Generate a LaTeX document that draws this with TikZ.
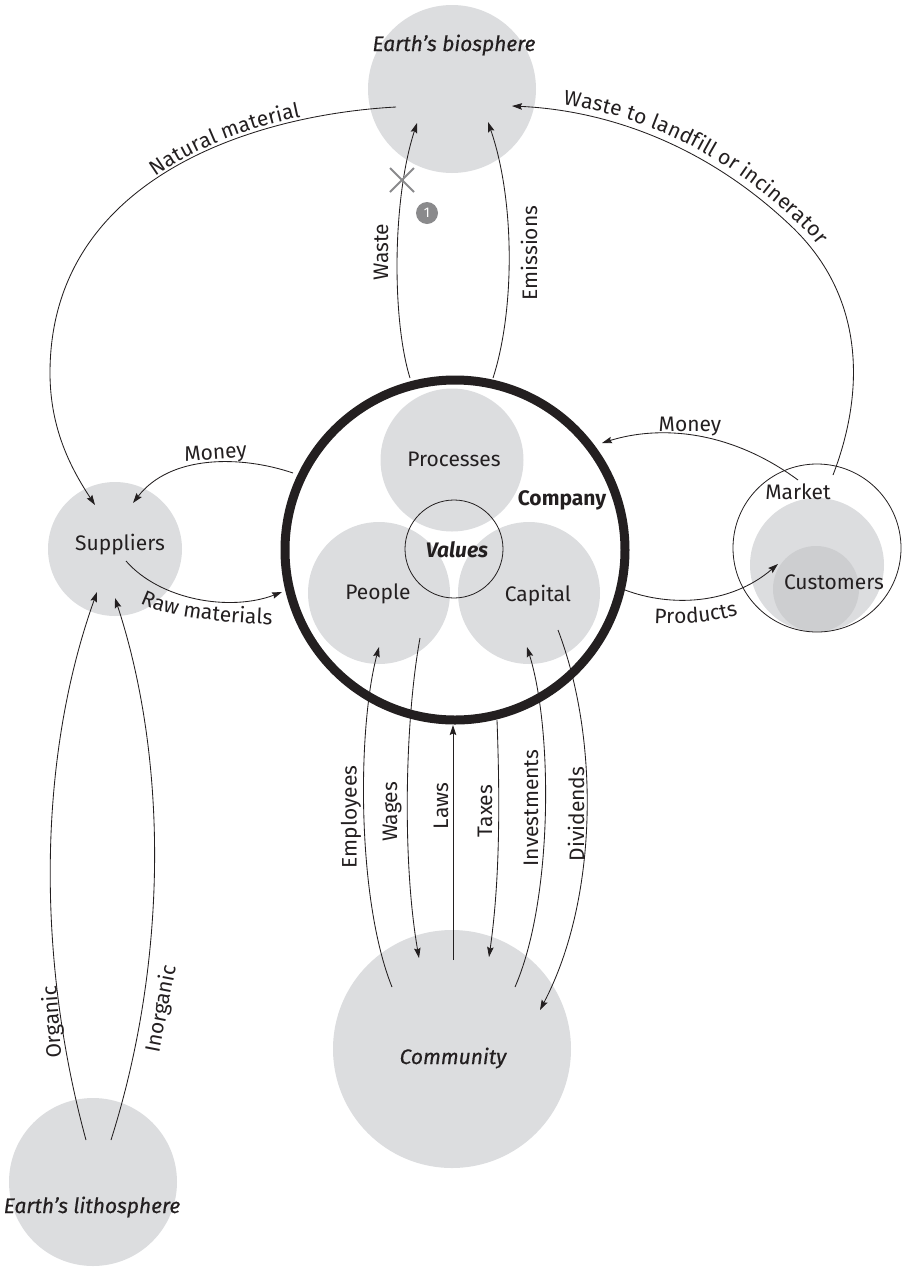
\documentclass[tikz,border=0pt]{standalone}
\usepackage{fontspec}
\setmainfont{Fira Sans}
\newfontfamily\medfont{Fira Sans}[FakeBold=0.5]
\usetikzlibrary{arrows.meta,decorations.text}
\definecolor{disc}{HTML}{DCDDDF}
\definecolor{discdark}{HTML}{CDCED0}
\definecolor{ink}{HTML}{231F20}
\definecolor{xgrey}{HTML}{8A8A8C}
\newcommand\dglbl{\fontsize{21}{25}\selectfont}
\begin{document}
\begin{tikzpicture}[x=1pt,y=-1pt,
  disc/.style={circle,fill=disc,inner sep=0pt,minimum size=#1},
  lbl/.style={font=\dglbl,text=ink,inner sep=0pt},
  bl/.style={lbl,anchor=base},
  conn/.style={draw=ink,line width=0.85pt,-{Stealth[length=10pt,width=6.5pt,inset=1.5pt]}},
  along/.style={decorate,decoration={text along path,text={|\dglbl\color{ink}|#1}}},
]
\useasboundingbox (0,0) rectangle (902,1267);

% discs
\node[disc=168] (bio) at (452,89) {};
\node[disc=134] (sup) at (115,549) {};
\node[disc=168] (lith) at (93,1182) {};
\node[disc=238] (com) at (452,1049) {};
\node[disc=143] (proc) at (452,460) {};
\node[disc=142] (peop) at (379,593) {};
\node[disc=142] (capi) at (529,593) {};
\node[circle,draw=ink,line width=0.8pt,minimum size=98,inner sep=0pt] (vals) at (454,549) {};
\node[circle,draw=ink,line width=9pt,minimum size=340,inner sep=0pt] (company) at (455,550) {};
\node[disc=134] (custout) at (817,565) {};
\node[circle,fill=discdark,minimum size=86,inner sep=0pt] (cust) at (816,589) {};
\node[circle,draw=ink,line width=0.8pt,minimum size=168,inner sep=0pt] (market) at (817,548) {};

% texts
\node[bl,font=\dglbl\medfont\itshape] (tbio) at (454,51) {Earth’s biosphere};
\node[bl,font=\dglbl\medfont\itshape] (tlith) at (92,1213) {Earth’s lithosphere};
\node[bl,font=\dglbl\medfont\itshape] (tcom) at (453,1064) {Community};
\node[bl] (tproc) at (454,466) {Processes};
\node[bl,font=\dglbl\bfseries] (tcomp) at (562,505) {Company};
\node[bl,font=\dglbl\bfseries\itshape] (tvals) at (457,557) {Values};
\node[bl] (tpeop) at (378,599) {People};
\node[bl] (tcapi) at (538,601) {Capital};
\node[bl] (tsup) at (120,550) {Suppliers};
\node[bl] (tmkt) at (798,499) {Market};
\node[bl] (tcust) at (834,589) {Customers};
\node[bl] (tmonR) at (690,431) {Money};
\node[bl,rotate=4] (tmonL) at (216,459) {Money};

% rotated labels
\node[lbl,rotate=90] (lwaste) at (381,252) {Waste};
\node[lbl,rotate=90] (lemis) at (529,253) {Emissions};
\node[lbl,rotate=90] (lemp) at (351,817) {Employees};
\node[lbl,rotate=90] (lwage) at (392,812) {Wages};
\node[lbl,rotate=90] (llaw) at (441,806) {Laws};
\node[lbl,rotate=90] (ltax) at (485,811) {Taxes};
\node[lbl,rotate=90] (linv) at (531,808) {Investments};
\node[lbl,rotate=90] (ldiv) at (576,814) {Dividends};
\node[lbl,rotate=94] (lorg) at (53,1022) {Organic};
\node[lbl,rotate=79] (linorg) at (162,1009) {Inorganic};

% endpoints
\coordinate (bioNat) at (396,107);
\coordinate (bioWaste) at (417,123);
\coordinate (bioEmis) at (488,122);
\coordinate (bioLand) at (512,106);
\coordinate (supNat) at (95,505);
\coordinate (supMoney) at (133,503);
\coordinate (supRaw) at (126,561);
\coordinate (supOrg) at (97,592);
\coordinate (supInorg) at (115,598);
\coordinate (lithOrg) at (86,1140);
\coordinate (lithInorg) at (111,1140);
\coordinate (mktMoney) at (798,480);
\coordinate (mktLand) at (833,475);
\coordinate (custProd) at (778,564);
\coordinate (peopEmp) at (379,647);
\coordinate (peopWage) at (420,638);
\coordinate (capInv) at (527,647);
\coordinate (capDiv) at (558,630);
\coordinate (comEmp) at (392,987);
\coordinate (comWage) at (419,958);
\coordinate (comLaw) at (453,960);
\coordinate (comTax) at (489,957);
\coordinate (comInv) at (515,987);
\coordinate (comDiv) at (540,1010);
\coordinate (coWaste) at (410,378);
\coordinate (coEmis) at (493,378);
\coordinate (coMoneyL) at (293,473);
\coordinate (coRaw) at (282,592);
\coordinate (coMoneyR) at (602,443);
\coordinate (coProd) at (625,590);
\coordinate (coLaw) at (453,725);
\coordinate (coTax) at (497,720);

% connectors
\draw[conn] (coWaste) .. controls (392,320) and (392,200) .. (bioWaste);
\draw[conn] (coEmis) .. controls (515,310) and (515,200) .. (bioEmis);
\draw[conn] (bioNat) .. controls (250,115) and (50,180) .. (50,373) .. controls (50,430) and (72,470) .. (supNat);
\draw[conn] (mktLand) .. controls (862,400) and (870,300) .. (790,225) .. controls (700,140) and (600,110) .. (bioLand);
\draw[conn] (coMoneyL) .. controls (240,455) and (170,455) .. (supMoney);
\draw[conn] (supRaw) .. controls (160,600) and (230,612) .. (coRaw);
\draw[conn] (mktMoney) .. controls (730,430) and (660,425) .. (coMoneyR);
\draw[conn] (coProd) .. controls (670,607) and (730,605) .. (custProd);
\draw[conn] (comLaw) -- (coLaw);
\draw[conn] (comEmp) .. controls (357,900) and (357,730) .. (peopEmp);
\draw[conn] (peopWage) .. controls (405,720) and (402,860) .. (comWage);
\draw[conn] (coTax) .. controls (500,800) and (500,880) .. (comTax);
\draw[conn] (comInv) .. controls (553,900) and (553,730) .. (capInv);
\draw[conn] (capDiv) .. controls (600,740) and (598,900) .. (comDiv);
\draw[conn] (lithOrg) .. controls (37,960) and (37,760) .. (supOrg);
\draw[conn] (lithInorg) .. controls (168,960) and (168,760) .. (supInorg);

% curved labels
\path[along={Natural material},decoration={text align=center,raise=3pt}] (95,240) .. controls (160,150) and (270,118) .. (388,107);
\path[along={Waste to landfill or incinerator},decoration={text align={left indent=50pt},raise=7pt}] (bioLand) .. controls (600,110) and (700,140) .. (790,225) .. controls (870,300) and (862,400) .. (mktLand);
\path[along={Raw materials}] (140,603) .. controls (165,615) and (200,622) .. (285,625);
\path[along={Products}] (654,623) .. controls (690,625) and (715,622) .. (750,612);

% mark and badge
\draw[xgrey,line width=2pt] (390,168) -- (414,192) (390,192) -- (414,168);
\node[circle,fill=xgrey,minimum size=22,inner sep=0pt,text=white,font=\fontsize{14}{14}\selectfont] (badge) at (427,213) {1};
\end{tikzpicture}
\end{document}
